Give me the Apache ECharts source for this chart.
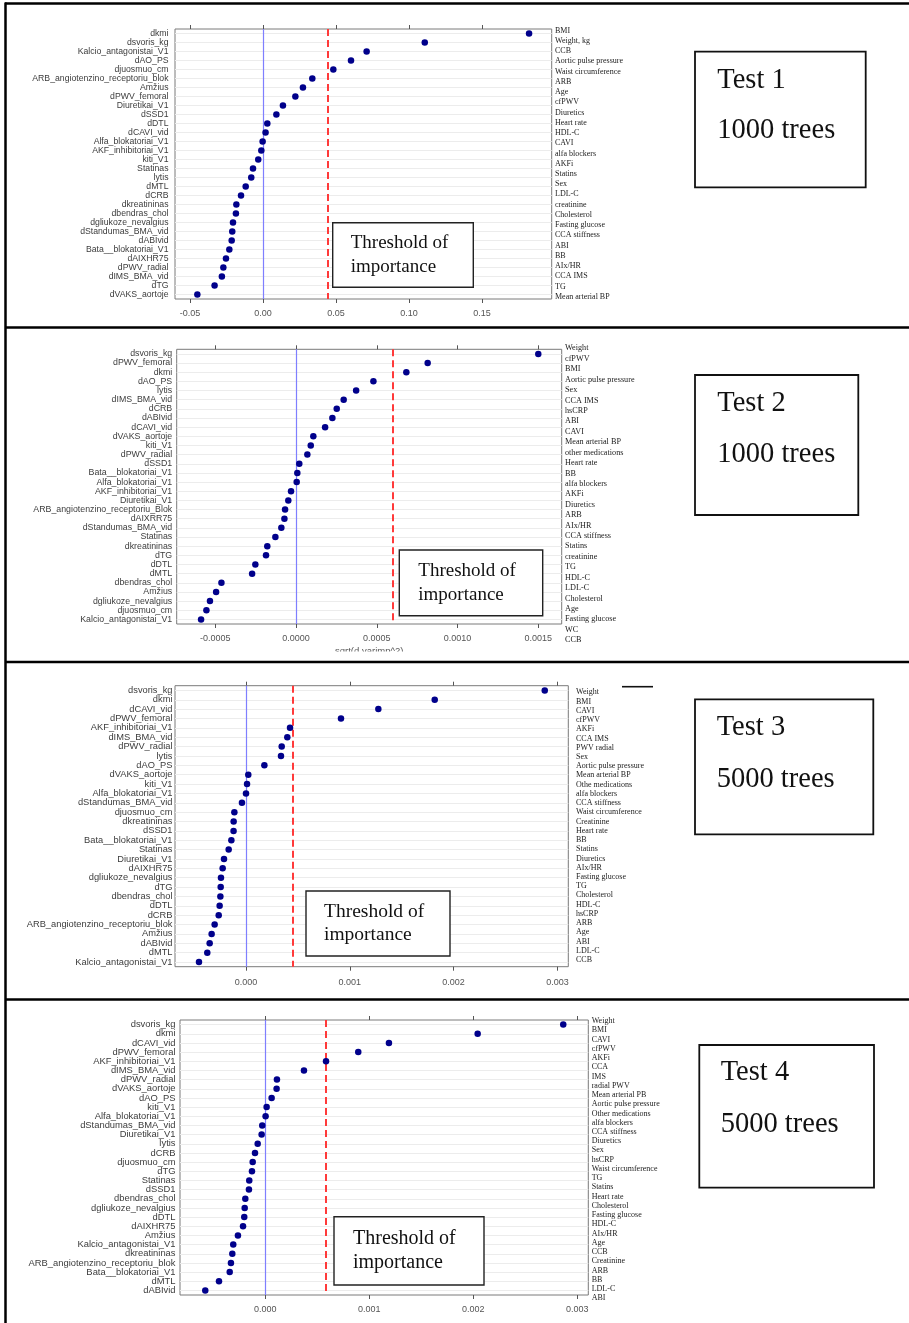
<!DOCTYPE html>
<html><head><meta charset="utf-8">
<script src="https://cdn.jsdelivr.net/npm/echarts@6/dist/echarts.min.js"></script>
<style>html,body{margin:0;padding:0;background:#fff}#c{width:909px;height:1323px}</style>
</head><body><div id="c"></div>
<script>
// ===== Test 1 (1000 trees) =====
const cats1 = ['dkmi','dsvoris_kg','Kalcio_antagonistai_V1','dAO_PS','djuosmuo_cm','ARB_angiotenzino_receptoriu_blok','Amžius','dPWV_femoral','Diuretikai_V1','dSSD1','dDTL','dCAVI_vid','Alfa_blokatoriai_V1','AKF_inhibitoriai_V1','kiti_V1','Statinas','lytis','dMTL','dCRB','dkreatininas','dbendras_chol','dgliukoze_nevalgius','dStandumas_BMA_vid','dABIvid','Bata__blokatoriai_V1','dAIXHR75','dPWV_radial','dIMS_BMA_vid','dTG','dVAKS_aortoje'];
const vals1 = [0.1822,0.1108,0.0710,0.0603,0.0482,0.0338,0.0274,0.0222,0.0137,0.0092,0.0030,0.0018,-0.0002,-0.0011,-0.0032,-0.0068,-0.0080,-0.0118,-0.0150,-0.0182,-0.0185,-0.0205,-0.0210,-0.0214,-0.0230,-0.0253,-0.0271,-0.0281,-0.0331,-0.0449];
const right1 = ['BMI','Weight, kg','CCB','Aortic pulse pressure','Waist circumference','ARB','Age','cfPWV','Diuretics','Heart rate','HDL-C','CAVI','alfa blockers','AKFi','Statins','Sex','LDL-C','creatinine','Cholesterol','Fasting glucose','CCA stiffness','ABI','BB','AIx/HR','CCA IMS','TG','Mean arterial BP'];
const ticks1 = ['-0.05','0.00','0.05','0.10','0.15'];
const thr1 = 0.0441;

// ===== Test 2 (1000 trees) =====
const cats2 = ['dsvoris_kg','dPWV_femoral','dkmi','dAO_PS','lytis','dIMS_BMA_vid','dCRB','dABIvid','dCAVI_vid','dVAKS_aortoje','kiti_V1','dPWV_radial','dSSD1','Bata__blokatoriai_V1','Alfa_blokatoriai_V1','AKF_inhibitoriai_V1','Diuretikai_V1','ARB_angiotenzino_receptoriu_Blok','dAIXRR75','dStandumas_BMA_vid','Statinas','dkreatininas','dTG','dDTL','dMTL','dbendras_chol','Amžius','dgliukoze_nevalgius','djuosmuo_cm','Kalcio_antagonistai_V1'];
const vals2 = [0.00150,0.000815,0.000683,0.000479,0.000372,0.000295,0.000252,0.000225,0.000180,0.000107,0.000091,0.000070,0.000020,0.000008,0.000004,-0.000031,-0.000048,-0.000068,-0.000072,-0.000091,-0.000128,-0.000178,-0.000186,-0.000252,-0.000272,-0.000462,-0.000495,-0.000533,-0.000555,-0.000588];
const right2 = ['Weight','cfPWV','BMI','Aortic pulse pressure','Sex','CCA IMS','hsCRP','ABI','CAVI','Mean arterial BP','other medications','Heart rate','BB','alfa blockers','AKFi','Diuretics','ARB','AIx/HR','CCA stiffness','Statins','creatinine','TG','HDL-C','LDL-C','Cholesterol','Age','Fasting glucose','WC','CCB'];
const ticks2 = ['-0.0005','0.0000','0.0005','0.0010','0.0015'];
const thr2 = 0.000598;

// ===== Test 3 (5000 trees) =====
const cats3 = ['dsvoris_kg','dkmi','dCAVI_vid','dPWV_femoral','AKF_inhibitoriai_V1','dIMS_BMA_vid','dPWV_radial','lytis','dAO_PS','dVAKS_aortoje','kiti_V1','Alfa_blokatoriai_V1','dStandumas_BMA_vid','djuosmuo_cm','dkreatininas','dSSD1','Bata__blokatoriai_V1','Statinas','Diuretikai_V1','dAIXHR75','dgliukoze_nevalgius','dTG','dbendras_chol','dDTL','dCRB','ARB_angiotenzino_receptoriu_blok','Amžius','dABIvid','dMTL','Kalcio_antagonistai_V1'];
const vals3 = [0.002878,0.001818,0.001275,0.000915,0.000424,0.000398,0.000344,0.000337,0.000177,0.000022,0.000010,0.000000,-0.000039,-0.000112,-0.000119,-0.000120,-0.000141,-0.000167,-0.000212,-0.000225,-0.000241,-0.000244,-0.000247,-0.000254,-0.000263,-0.000302,-0.000331,-0.000350,-0.000373,-0.000453];
const right3 = ['Weight','BMI','CAVI','cfPWV','AKFi','CCA IMS','PWV radial','Sex','Aortic pulse pressure','Mean arterial BP','Othe medications','alfa blockers','CCA stiffness','Waist circumference','Creatinine','Heart rate','BB','Statins','Diuretics','AIx/HR','Fasting glucose','TG','Cholesterol','HDL-C','hsCRP','ARB','Age','ABI','LDL-C','CCB'];
const ticks3 = ['0.000','0.001','0.002','0.003'];
const thr3 = 0.00045;

// ===== Test 4 (5000 trees) =====
const cats4 = ['dsvoris_kg','dkmi','dCAVI_vid','dPWV_femoral','AKF_inhibitoriai_V1','dIMS_BMA_vid','dPWV_radial','dVAKS_aortoje','dAO_PS','kiti_V1','Alfa_blokatoriai_V1','dStandumas_BMA_vid','Diuretikai_V1','lytis','dCRB','djuosmuo_cm','dTG','Statinas','dSSD1','dbendras_chol','dgliukoze_nevalgius','dDTL','dAIXHR75','Amžius','Kalcio_antagonistai_V1','dkreatininas','ARB_angiotenzino_receptoriu_blok','Bata__blokatoriai_V1','dMTL','dABIvid'];
const vals4 = [0.002865,0.002042,0.001189,0.000894,0.000584,0.000372,0.000112,0.000109,0.000061,0.000013,0.000003,-0.000029,-0.000035,-0.000073,-0.000099,-0.000121,-0.000128,-0.000154,-0.000157,-0.000192,-0.000198,-0.000202,-0.000214,-0.000263,-0.000308,-0.000317,-0.000330,-0.000342,-0.000445,-0.000577];
const right4 = ['Weight','BMI','CAVI','cfPWV','AKFi','CCA','IMS','radial PWV','Mean arterial PB','Aortic pulse pressure','Other medications','alfa blockers','CCA stiffness','Diuretics','Sex','hsCRP','Waist circumference','TG','Statins','Heart rate','Cholesterol','Fasting glucose','HDL-C','AIx/HR','Age','CCB','Creatinine','ARB','BB','LDL-C','ABI'];
const ticks4 = ['0.000','0.001','0.002','0.003'];
const thr4 = 0.00058;

const testTitles = ['Test 1','Test 2','Test 3','Test 4'];
const testTrees = ['1000 trees','1000 trees','5000 trees','5000 trees'];
const thresholdText = ['Threshold of','importance'];
const xAxisTitle2 = 'sqrt(d.varimp^2)';

const panels = [
  {cats:cats1, vals:vals1, right:right1, ticks:ticks1, thr:thr1},
  {cats:cats2, vals:vals2, right:right2, ticks:ticks2, thr:thr2},
  {cats:cats3, vals:vals3, right:right3, ticks:ticks3, thr:thr3},
  {cats:cats4, vals:vals4, right:right4, ticks:ticks4, thr:thr4}
];

// layout (pixels) and axis extents
const L = [
  {left:175, top:29, width:376.7, height:270, min:-0.0602, max:0.1977, lf:8.7, lm:6.5, tm:10, rx:555, rtop:25.6, rh:276.2, rf:8},
  {left:176.7, top:349.3, width:385, height:274.7, min:-0.000739, max:0.001645, lf:8.8, lm:4.5, tm:10, rx:565, rtop:343.1, rh:302.2, rf:8.2},
  {left:175, top:685.7, width:393.3, height:281, min:-0.000684, max:0.003105, lf:9.3, lm:2.5, tm:11.5, rx:576, rtop:687.7, rh:276.9, rf:8},
  {left:180, top:1020, width:408.3, height:275, min:-0.00082, max:0.003106, lf:9.4, lm:4.5, tm:10, rx:591.7, rtop:1016.4, rh:286.4, rf:8}
];
const boxes = [
  {x:332.7, y:222.7, w:140.6, h:64.6, tx:350.7, y1:243.3, y2:266.7, fs:19},
  {x:399.3, y:550, w:143.4, h:65.7, tx:418.3, y1:570.7, y2:595, fs:19},
  {x:306, y:891, w:144, h:65, tx:324, y1:911.7, y2:935, fs:19.5},
  {x:334, y:1216.7, w:150, h:68.3, tx:353, y1:1239, y2:1263, fs:20}
];
const tboxes = [
  {x:695, y:51.7, w:170.7, h:135.6, tx:717.3, y1:80.7, y2:130.7},
  {x:695, y:375, w:163.3, h:140, tx:717.3, y1:403.3, y2:455},
  {x:695, y:699.3, w:178.3, h:135, tx:716.7, y1:727.7, y2:779.3},
  {x:699.3, y:1045, w:174.7, h:142.7, tx:720.7, y1:1073, y2:1124.5}
];

const grid = [], xAxis = [], yAxis = [], series = [];
panels.forEach((p, k) => {
  const l = L[k];
  const tickVals = p.ticks.map(Number);
  const fmt = v => { const i = tickVals.findIndex(t => Math.abs(t - v) < 1e-12); return i >= 0 ? p.ticks[i] : ''; };
  // plot grid
  grid.push({left:l.left, top:l.top, width:l.width, height:l.height, show:true, borderColor:'#7a7a7a', borderWidth:1, backgroundColor:'transparent', containLabel:false, outerBoundsMode:'none'});
  const gi = grid.length - 1;
  xAxis.push({gridIndex:gi, type:'value', position:'bottom', min:l.min, max:l.max,
    axisLine:{show:false}, splitLine:{show:false},
    axisTick:{show:true, length:4, lineStyle:{color:'#555', width:1}, customValues:tickVals},
    axisLabel:{show:true, customValues:tickVals, formatter:fmt, fontFamily:'Liberation Sans', fontSize:9, color:'#555', margin:l.tm},
    name: k === 1 ? xAxisTitle2 : '', nameLocation:'middle', nameGap:22,
    nameTextStyle:{fontFamily:'Liberation Sans', fontSize:9.5, color:'#555', verticalAlign:'top'}
  });
  xAxis.push({gridIndex:gi, type:'value', position:'top', min:l.min, max:l.max,
    axisLine:{show:false}, splitLine:{show:false}, axisLabel:{show:false},
    axisTick:{show:true, length:4, lineStyle:{color:'#555', width:1}, customValues:tickVals}
  });
  const xb = xAxis.length - 2;
  yAxis.push({gridIndex:gi, type:'category', data:p.cats, inverse:true,
    axisLine:{show:false}, axisTick:{show:false}, splitLine:{show:false},
    axisLabel:{interval:0, fontFamily:'Liberation Sans', fontSize:l.lf, color:'#3c3c3c', margin:l.lm}
  });
  const yi = yAxis.length - 1;
  // row guide lines
  series.push({type:'scatter', xAxisIndex:xb, yAxisIndex:yi, data:[], z:1, silent:true,
    markLine:{silent:true, symbol:['none','none'], animation:false, label:{show:false}, precision:12,
      lineStyle:{color:'#ececec', width:1.2, type:'solid'},
      emphasis:{disabled:true},
      data:p.cats.map(c => ({yAxis:c}))}
  });
  // zero line and threshold line
  series.push({type:'scatter', xAxisIndex:xb, yAxisIndex:yi, data:[], z:2, silent:true,
    markLine:{silent:true, symbol:['none','none'], animation:false, label:{show:false}, precision:12,
      emphasis:{disabled:true},
      data:[
        {xAxis:0, lineStyle:{color:'#7f7fff', width:1.2, type:'solid'}},
        {xAxis:p.thr, lineStyle:{color:'#ff3a3a', width:2, type:[7,4]}}
      ]}
  });
  // dots
  series.push({type:'scatter', xAxisIndex:xb, yAxisIndex:yi, z:5, symbol:'circle', symbolSize:6.5,
    itemStyle:{color:'#00008b', opacity:1}, animation:false,
    data:p.cats.map((c, i) => [p.vals[i], c])
  });
  // right label column
  grid.push({left:l.rx - 1, top:l.rtop, width:1, height:l.rh, show:false, containLabel:false, outerBoundsMode:'none'});
  const gr = grid.length - 1;
  xAxis.push({gridIndex:gr, type:'value', show:false, min:0, max:1});
  yAxis.push({gridIndex:gr, type:'category', data:p.right, inverse:true, position:'right',
    axisLine:{show:false}, axisTick:{show:false}, splitLine:{show:false},
    axisLabel:{interval:0, fontFamily:'Liberation Serif', fontSize:l.rf, color:'#222', margin:0, align:'left'}
  });
});

const graphic = [];
// table borders
[[5,3.5,909,3.5],[5.5,2.5,5.5,1323],[5,327.5,909,327.5],[5,662,909,662],[5,999.5,909,999.5]].forEach(s => {
  graphic.push({type:'line', z:120, shape:{x1:s[0], y1:s[1], x2:s[2], y2:s[3]}, style:{stroke:'#000', lineWidth:2.5}});
});
// crop of axis title in panel 2
graphic.push({type:'rect', z:110, shape:{x:300, y:651.5, width:160, height:9}, style:{fill:'#fff'}});
// small stray line in panel 3
graphic.push({type:'line', z:110, shape:{x1:622, y1:686.7, x2:653, y2:686.7}, style:{stroke:'#111', lineWidth:1.6}});
boxes.forEach(b => {
  graphic.push({type:'rect', z:100, shape:{x:b.x, y:b.y, width:b.w, height:b.h}, style:{fill:'#fff', stroke:'#222', lineWidth:1.4}});
  graphic.push({type:'text', z:101, style:{x:b.tx, y:b.y1, text:thresholdText[0], fontFamily:'Liberation Serif', fontSize:b.fs, fill:'#111', align:'left', verticalAlign:'middle'}});
  graphic.push({type:'text', z:101, style:{x:b.tx, y:b.y2, text:thresholdText[1], fontFamily:'Liberation Serif', fontSize:b.fs, fill:'#111', align:'left', verticalAlign:'middle'}});
});
tboxes.forEach((b, k) => {
  graphic.push({type:'rect', z:100, shape:{x:b.x, y:b.y, width:b.w, height:b.h}, style:{fill:'#fff', stroke:'#111', lineWidth:1.8}});
  graphic.push({type:'text', z:101, style:{x:b.tx, y:b.y1, text:testTitles[k], fontFamily:'Liberation Serif', fontSize:28.5, fill:'#111', align:'left', verticalAlign:'middle'}});
  graphic.push({type:'text', z:101, style:{x:b.tx, y:b.y2, text:testTrees[k], fontFamily:'Liberation Serif', fontSize:28.5, fill:'#111', align:'left', verticalAlign:'middle'}});
});

const chart = echarts.init(document.getElementById('c'), null, {renderer:'canvas'});
chart.setOption({
  backgroundColor:'#ffffff',
  animation:false,
  grid, xAxis, yAxis, series, graphic
});
</script>
</body></html>
